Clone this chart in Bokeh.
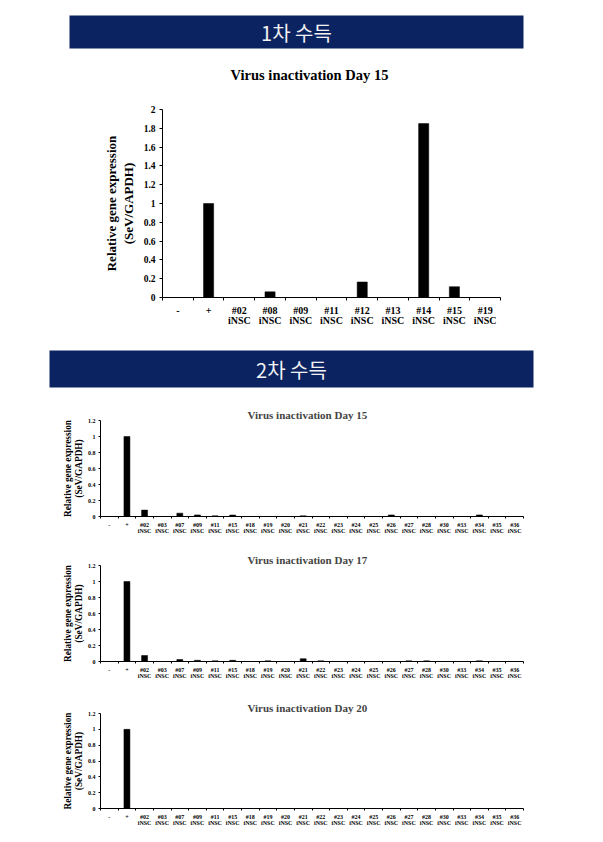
from bokeh.plotting import figure
from bokeh.models import FixedTicker, NumeralTickFormatter, Range1d
from bokeh.embed import file_html
from bokeh.resources import INLINE
from bokeh.core.properties import value

# ---------------- data ----------------
banner_texts = ["1차 수득", "2차 수득"]

titles1 = "Virus inactivation Day 15"
labels1 = ["-", "+", "#02\niNSC", "#08\niNSC", "#09\niNSC", "#11\niNSC",
           "#12\niNSC", "#13\niNSC", "#14\niNSC", "#15\niNSC", "#19\niNSC"]
values1 = [0, 1.0, 0, 0.06, 0, 0, 0.165, 0, 1.85, 0.115, 0]
yticks1 = [0, 0.2, 0.4, 0.6, 0.8, 1.0, 1.2, 1.4, 1.6, 1.8, 2.0]

labels2 = ["-", "+", "#02\niNSC", "#03\niNSC", "#07\niNSC", "#09\niNSC", "#11\niNSC",
           "#15\niNSC", "#18\niNSC", "#19\niNSC", "#20\niNSC", "#21\niNSC", "#22\niNSC",
           "#23\niNSC", "#24\niNSC", "#25\niNSC", "#26\niNSC", "#27\niNSC", "#28\niNSC",
           "#30\niNSC", "#33\niNSC", "#34\niNSC", "#35\niNSC", "#36\niNSC"]
day15 = [0, 1.0, 0.08, 0, 0.042, 0.02, 0.008, 0.018, 0, 0, 0, 0.008, 0,
         0, 0, 0, 0.02, 0, 0, 0, 0, 0.02, 0, 0]
day17 = [0, 1.0, 0.075, 0, 0.025, 0.015, 0.008, 0.015, 0, 0.008, 0, 0.035, 0.008,
         0, 0, 0, 0, 0.008, 0.008, 0, 0, 0.008, 0, 0]
day20 = [0, 1.0, 0, 0, 0, 0, 0, 0, 0, 0, 0, 0, 0,
         0, 0, 0, 0, 0, 0, 0, 0, 0, 0, 0]
titles2 = ["Virus inactivation Day 15", "Virus inactivation Day 17", "Virus inactivation Day 20"]
yticks2 = [0, 0.2, 0.4, 0.6, 0.8, 1.0, 1.2]

ylabel = "Relative gene expression\n(SeV/GAPDH)"

NAVY = "#0b2361"
SERIF = "Liberation Serif"
W = 595


def text_strip(text, h, lb, rb, tb, bb, fs, bg, color, font, style):
    p = figure(width=W, height=h, x_range=Range1d(0, 1), y_range=Range1d(0, 1),
               min_border_left=lb, min_border_right=rb, min_border_top=tb, min_border_bottom=bb,
               output_backend="svg", toolbar_location=None)
    p.axis.visible = False
    p.grid.visible = False
    p.outline_line_color = None
    p.background_fill_color = bg
    p.text(x=[0.5], y=[0.5], text=[text], text_align="center", text_baseline="middle",
           text_color=color, text_font=value(font), text_font_style=style, text_font_size=fs)
    return p


def bar_chart(title, labels, values, yticks, h, lb, rb, tb, bb, cfg):
    n = len(labels)
    xs = list(range(n))
    p = figure(width=W, height=h, x_range=Range1d(-0.5, n - 0.5),
               y_range=Range1d(yticks[0], yticks[-1]),
               min_border_left=lb, min_border_right=rb, min_border_top=tb, min_border_bottom=bb,
               output_backend="svg", toolbar_location=None)
    p.vbar(x=xs, top=values, width=cfg["bw"], fill_color="black", line_color="black", line_width=0.5)
    p.grid.visible = False
    p.outline_line_color = None

    if title:
        p.title.text = title
        p.title.text_font = SERIF
        p.title.text_font_style = "bold"
        p.title.text_font_size = cfg["title_fs"]
        p.title.align = cfg["title_align"]
        p.title.offset = cfg["title_offset"]
        p.title.standoff = cfg["title_standoff"]

    xa = p.xaxis[0]
    xa.ticker = FixedTicker(ticks=xs, minor_ticks=[i - 0.5 for i in range(n + 1)])
    xa.major_label_overrides = {i: lab for i, lab in enumerate(labels)}
    xa.major_tick_line_color = None
    xa.minor_tick_in = 0
    xa.minor_tick_out = cfg["tick"]
    xa.minor_tick_line_color = "black"
    xa.axis_line_color = "black"
    xa.major_label_text_font = SERIF
    xa.major_label_text_font_style = "bold"
    xa.major_label_text_font_size = cfg["xl_fs"]
    xa.major_label_text_line_height = cfg["xl_lh"]
    xa.major_label_standoff = cfg["xl_standoff"]
    xa.major_label_text_color = "black"

    ya = p.yaxis[0]
    ya.ticker = FixedTicker(ticks=yticks, minor_ticks=[])
    ya.formatter = NumeralTickFormatter(format="0.[0]")
    ya.major_tick_in = 0
    ya.major_tick_out = cfg["tick"]
    ya.major_tick_line_color = "black"
    ya.axis_line_color = "black"
    ya.major_label_text_font = SERIF
    ya.major_label_text_font_style = "bold"
    ya.major_label_text_font_size = cfg["yl_fs"]
    ya.major_label_standoff = cfg["yl_standoff"]
    ya.major_label_text_color = "black"
    ya.axis_label = ylabel
    ya.axis_label_text_font = SERIF
    ya.axis_label_text_font_style = "bold"
    ya.axis_label_text_font_size = cfg["al_fs"]
    ya.axis_label_text_line_height = cfg["al_lh"]
    ya.axis_label_standoff = cfg["al_standoff"]
    ya.axis_label_text_color = "black"
    return p


big = dict(bw=0.33, tick=3, xl_fs="10px", xl_lh=0.95, xl_standoff=1, yl_fs="9.5px",
           yl_standoff=4, al_fs="13px", al_lh=1.1, al_standoff=5)
small = dict(bw=0.34, title_fs="11px", title_align="left", title_offset=147, title_standoff=0,
             tick=2, xl_fs="6px", xl_lh=1.0, xl_standoff=-1, yl_fs="6px",
             yl_standoff=3, al_fs="9.3px", al_lh=1.15, al_standoff=1)

b1 = text_strip(banner_texts[0], 56, 69, 72, 15, 8, "20px", NAVY, "#f2f2f2", "Noto Sans CJK KR", "normal")
t1 = text_strip(titles1, 34, 100, 77, 2, 0, "14.5px", "white", "black", SERIF, "bold")
c1 = bar_chart(None, labels1, values1, yticks1, 250, 162, 95, 19, 43, big)
b2 = text_strip(banner_texts[1], 55, 49, 62, 10, 8, "20px", NAVY, "#f2f2f2", "Noto Sans CJK KR", "normal")
c2 = bar_chart(titles2[0], labels2, day15, yticks2, 145, 100, 72, 25, 24, small)
c3 = bar_chart(titles2[1], labels2, day17, yticks2, 148, 100, 72, 25, 27, small)
c4 = bar_chart(titles2[2], labels2, day20, yticks2, 146, 100, 72, 25, 26, small)

open("out.html", "w").write(file_html([b1, t1, c1, b2, c2, c3, c4], INLINE))
